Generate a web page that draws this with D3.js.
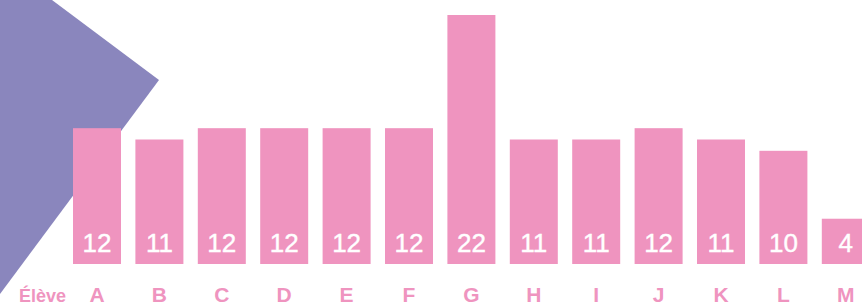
<!DOCTYPE html>
<html><head><meta charset="utf-8">
<script src="https://cdn.jsdelivr.net/npm/d3@7"></script>
<style>body{margin:0;background:#fff;}svg{display:block;}</style>
</head><body>
<svg id="c" width="862" height="306"></svg>
<script>
const categories = ["A","B","C","D","E","F","G","H","I","J","K","L","M"];
const values = [12,11,12,12,12,12,22,11,11,12,11,10,4];
const axisTitle = "Élève";

const svg = d3.select("#c");
const pink = "#ef94bf", purple = "#8a86bd";

// background shape
svg.append("polygon")
  .attr("points", [[0,0],[52,0],[159,80],[0,294]].map(p=>p.join(",")).join(" "))
  .attr("fill", purple);

const x = d3.scaleBand().domain(categories)
  .range([65.8, 65.8 + 62.4 * categories.length])
  .paddingInner(14.4/62.4).paddingOuter(7.2/62.4);
const y = d3.scaleLinear().domain([0,22]).range([264,15]);
const bw = x.bandwidth();

const g = svg.append("g");
g.selectAll("rect").data(values).join("rect")
  .attr("x",(d,i)=>x(categories[i])).attr("y",d=>y(d))
  .attr("width",bw).attr("height",d=>y(0)-y(d))
  .attr("fill",pink);

g.selectAll("text.v").data(values).join("text").attr("class","v")
  .attr("x",(d,i)=>x(categories[i])+bw/2).attr("y",252)
  .attr("text-anchor","middle")
  .attr("fill","#fff").attr("stroke","#fff").attr("stroke-width",0.4)
  .style("font-family","Liberation Sans, Arial, sans-serif")
  .style("font-size","26px")
  .text(d=>d);

g.selectAll("text.c").data(categories).join("text").attr("class","c")
  .attr("x",d=>x(d)+bw/2).attr("y",302)
  .attr("text-anchor","middle")
  .attr("fill",pink)
  .style("font-family","Liberation Sans, Arial, sans-serif")
  .style("font-weight","bold")
  .style("font-size","21px")
  .text(d=>d);

svg.append("text").attr("x",66).attr("y",302)
  .attr("text-anchor","end").attr("fill",pink)
  .style("font-family","Liberation Sans, Arial, sans-serif")
  .style("font-weight","bold").style("font-size","18px")
  .text(axisTitle);
</script>
</body></html>
